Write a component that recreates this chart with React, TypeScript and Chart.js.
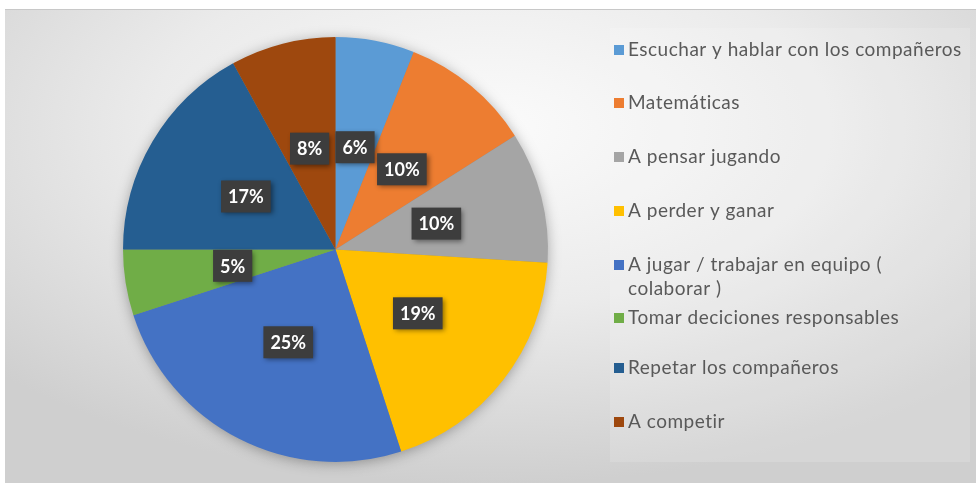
import React, { useEffect, useRef } from "react";
import { Chart, registerables } from "chart.js";

Chart.register(...registerables);

const categories: string[][] = [
  ["Escuchar y hablar con los compañeros"],
  ["Matemáticas"],
  ["A pensar jugando"],
  ["A perder y ganar"],
  ["A jugar / trabajar en equipo (", "colaborar )"],
  ["Tomar deciciones responsables"],
  ["Repetar los compañeros"],
  ["A competir"],
];
const values: number[] = [6, 10, 10, 19, 25, 5, 17, 8];
const colors: string[] = ["#5B9BD5", "#ED7D31", "#A5A5A5", "#FFC000", "#4472C4", "#70AD47", "#255E91", "#9E480E"];

const FONT = "Lato, 'Open Sans', sans-serif";

const pieShadow = {
  id: "pieShadow",
  beforeDatasetsDraw(chart: any) {
    const meta = chart.getDatasetMeta(0);
    const arc = meta.data[0];
    if (!arc) return;
    const { x, y, outerRadius } = arc.getProps(["x", "y", "outerRadius"], true);
    const ctx = chart.ctx;
    ctx.save();
    ctx.shadowColor = "rgba(0,0,0,0.35)";
    ctx.shadowBlur = 14;
    ctx.shadowOffsetY = 2;
    ctx.beginPath();
    ctx.arc(x, y, outerRadius - 1, 0, Math.PI * 2);
    ctx.fillStyle = "#888";
    ctx.fill();
    ctx.restore();
  },
};

const dataLabels = {
  id: "dataLabels",
  afterDatasetsDraw(chart: any) {
    const ctx = chart.ctx;
    const meta = chart.getDatasetMeta(0);
    const data = chart.data.datasets[0].data as number[];
    const total = data.reduce((a, b) => a + b, 0);
    ctx.save();
    ctx.font = `bold 18px ${FONT}`;
    ctx.textAlign = "center";
    ctx.textBaseline = "middle";
    meta.data.forEach((arc: any, i: number) => {
      const { x, y, startAngle, endAngle, outerRadius } = arc.getProps(
        ["x", "y", "startAngle", "endAngle", "outerRadius"],
        true
      );
      const mid = (startAngle + endAngle) / 2;
      const r = outerRadius * 0.49;
      const cx = x + Math.cos(mid) * r;
      const cy = y + Math.sin(mid) * r;
      const text = Math.round((data[i] / total) * 100) + "%";
      const w = ctx.measureText(text).width + 14;
      const h = 32;
      ctx.save();
      ctx.shadowColor = "rgba(0,0,0,0.45)";
      ctx.shadowBlur = 5;
      ctx.shadowOffsetX = 2;
      ctx.shadowOffsetY = 2;
      ctx.fillStyle = "#3d3d3d";
      ctx.fillRect(cx - w / 2, cy - h / 2, w, h);
      ctx.restore();
      ctx.fillStyle = "#ffffff";
      ctx.fillText(text, cx, cy + 1);
    });
    ctx.restore();
  },
};

const legendRows: number[] = [50, 103, 157, 211, 265, 318, 368, 422];

const sideLegend = {
  id: "sideLegend",
  afterDraw(chart: any) {
    const ctx = chart.ctx;
    const labels = chart.data.labels as string[][];
    const bg = chart.data.datasets[0].backgroundColor as string[];
    ctx.save();
    ctx.font = `19px ${FONT}`;
    (ctx as any).letterSpacing = "0.5px";
    ctx.textBaseline = "middle";
    ctx.textAlign = "left";
    labels.forEach((lines, i) => {
      const y = legendRows[i];
      ctx.fillStyle = bg[i];
      ctx.fillRect(614, y - 5, 10, 10);
      ctx.fillStyle = "#595959";
      lines.forEach((ln, j) => {
        ctx.fillText(ln, 628, y + j * 24);
      });
    });
    ctx.restore();
  },
};

export default function App() {
  const ref = useRef<HTMLCanvasElement | null>(null);
  useEffect(() => {
    if (!ref.current) return;
    const chart = new Chart(ref.current, {
      type: "pie",
      data: {
        labels: categories,
        datasets: [
          {
            data: values,
            backgroundColor: colors,
            borderWidth: 0,
          },
        ],
      },
      options: {
        animation: false,
        responsive: false,
        maintainAspectRatio: false,
        layout: { padding: { left: 123, right: 428, top: 37, bottom: 21 } },
        plugins: {
          legend: { display: false },
          tooltip: { enabled: false },
          title: { display: false },
        },
      },
      plugins: [pieShadow, dataLabels, sideLegend],
    });
    return () => chart.destroy();
  }, []);

  return (
    <div style={{ position: "fixed", left: 0, top: 0, width: 976, height: 483, background: "#ffffff", overflow: "hidden" }}>
      <div
        style={{
          position: "absolute",
          left: 5,
          top: 9,
          width: 971,
          height: 474,
          background: "radial-gradient(ellipse 70% 75% at 50% 25%, #fbfbfb 0%, #ebebeb 50%, #cfcfcf 100%)",
          borderTop: "1px solid #c8c8c8",
        }}
      />
      <div
        style={{
          position: "absolute",
          left: 610,
          top: 28,
          width: 360,
          height: 434,
          background: "rgba(255,255,255,0.15)",
        }}
      />
      <canvas ref={ref} width={976} height={483} style={{ position: "absolute", left: 0, top: 0, width: 976, height: 483 }} />
    </div>
  );
}
